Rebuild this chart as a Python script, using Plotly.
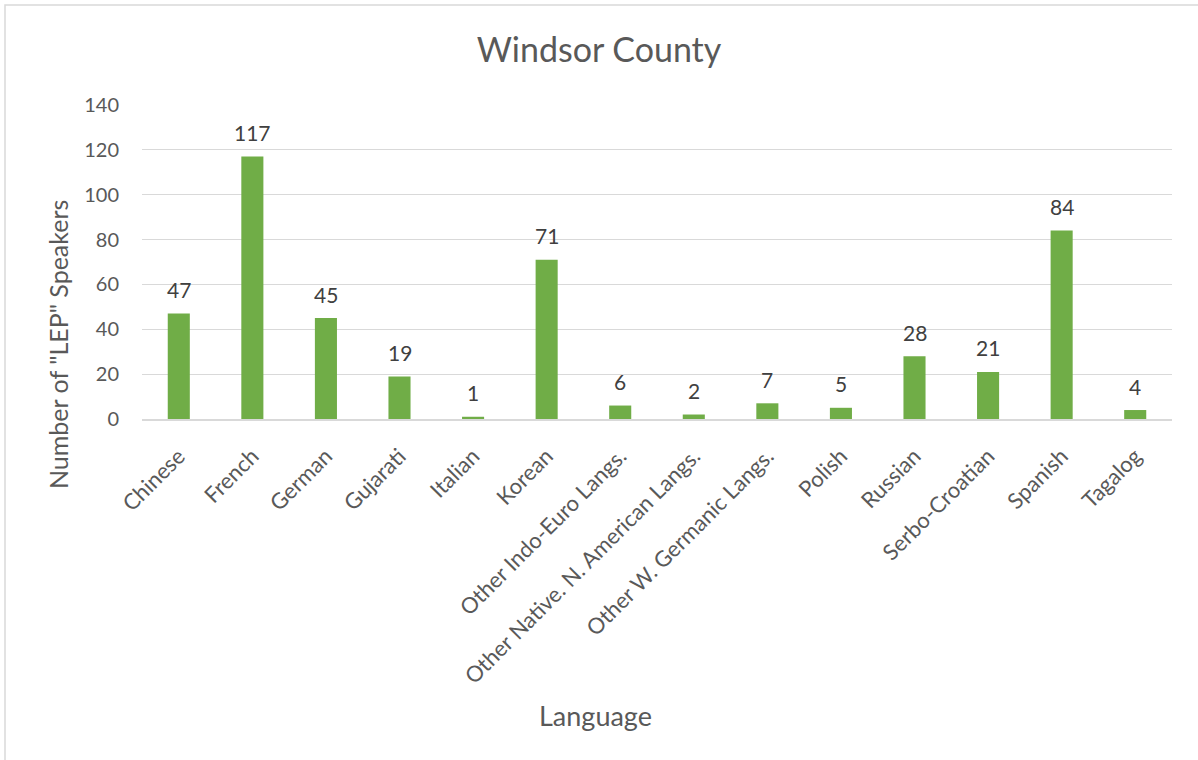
import plotly.graph_objects as go

languages = ["Chinese", "French", "German", "Gujarati", "Italian", "Korean",
             "Other Indo-Euro Langs.", "Other Native. N. American Langs.",
             "Other W. Germanic Langs.", "Polish", "Russian", "Serbo-Croatian",
             "Spanish", "Tagalog"]
speakers = [47, 117, 45, 19, 1, 71, 6, 2, 7, 5, 28, 21, 84, 4]
y_ticks = [0, 20, 40, 60, 80, 100, 120, 140]

FONT = "Lato, 'Open Sans', sans-serif"
GREY = "#595959"

fig = go.Figure(go.Bar(
    x=languages,
    y=speakers,
    marker=dict(color="#70ad47", line=dict(width=0)),
    cliponaxis=False,
))

# value labels above each bar
value_labels = [
    dict(x=lang, y=val, xref="x", yref="y", text=str(val), showarrow=False,
         xanchor="center", yanchor="middle", yshift=24,
         font=dict(family=FONT, size=21, color="#404040"))
    for lang, val in zip(languages, speakers)
]

fig.update_layout(
    width=1198, height=760,
    margin=dict(l=142, r=26, t=105, b=341),
    paper_bgcolor="white", plot_bgcolor="white",
    bargap=0.7,
    showlegend=False,
    title=dict(text="Windsor County", x=0.5, xanchor="center",
               y=1 - 50 / 760, yanchor="middle",
               font=dict(family=FONT, size=34, color=GREY)),
    xaxis=dict(tickangle=-45, tickfont=dict(family=FONT, size=22, color=GREY),
               showgrid=False, showline=True, linecolor="#d9d9d9", linewidth=1.5,
               ticks="", ticklabelstandoff=14),
    yaxis=dict(range=[0, 140], tickvals=y_ticks,
               tickfont=dict(family=FONT, size=20, color=GREY),
               showgrid=True, gridcolor="#d9d9d9", gridwidth=1.2,
               zeroline=False, showline=False, ticks="", ticklabelstandoff=22),
    annotations=value_labels + [
        dict(text='Number of "LEP" Speakers', xref="paper", yref="paper",
             x=(58 - 142) / 1030, y=(419 - 345) / 314, textangle=-90,
             showarrow=False, xanchor="center", yanchor="middle",
             font=dict(family=FONT, size=25, color=GREY)),
        dict(text="Language", xref="paper", yref="paper",
             x=(595 - 142) / 1030, y=(419 - 715) / 314,
             showarrow=False, xanchor="center", yanchor="middle",
             font=dict(family=FONT, size=27, color=GREY)),
    ],
    shapes=[
        dict(type="rect", xref="paper", yref="paper",
             x0=(5 - 142) / 1030, x1=1.2,
             y0=-1.6, y1=(419 - 5) / 314,
             line=dict(color="#d9d9d9", width=1.5), fillcolor="rgba(0,0,0,0)",
             layer="below"),
    ],
)

fig.write_html("out.html")
